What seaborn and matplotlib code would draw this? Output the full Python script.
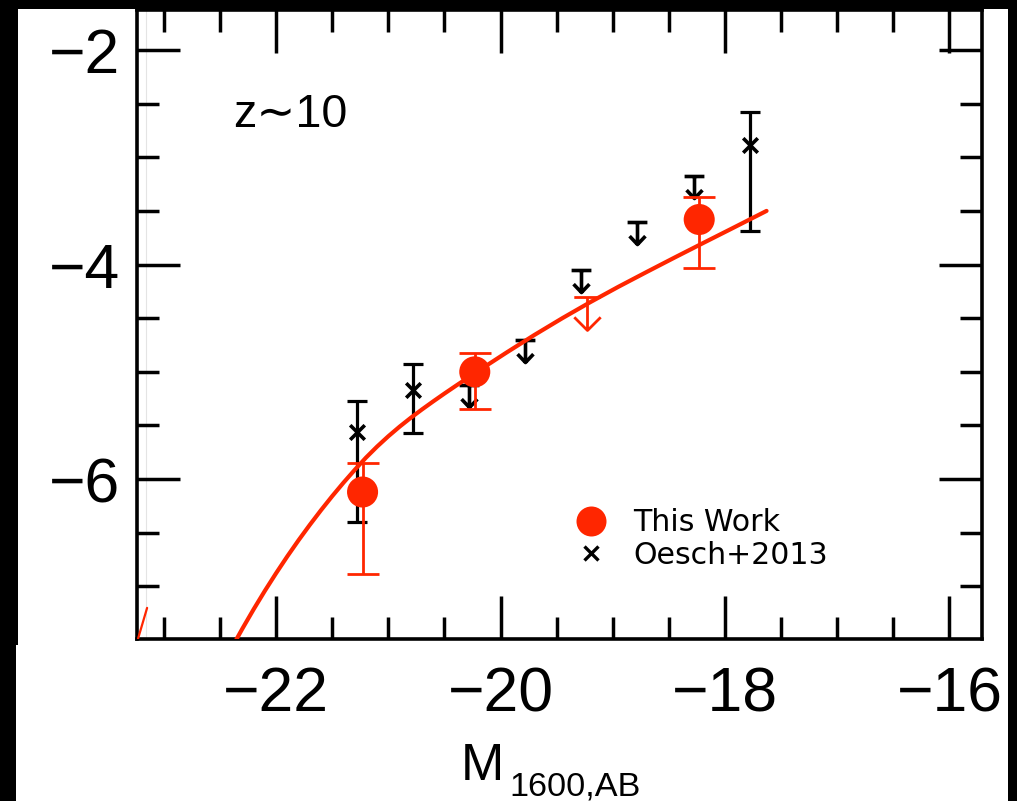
import matplotlib
matplotlib.use("Agg")
import matplotlib.pyplot as plt
from matplotlib.path import Path
from matplotlib.markers import MarkerStyle
from matplotlib.patches import Rectangle
from matplotlib.lines import Line2D
from matplotlib.ticker import MultipleLocator
import pandas as pd
import seaborn as sns

# Best-fit UV luminosity function at z~10 (log phi vs absolute magnitude)
fit_mag = [-22.40, -22.30, -22.20, -22.10, -22.00, -21.90, -21.80, -21.70, -21.60,
           -21.50, -21.40, -21.30, -21.20, -21.10, -21.00, -20.90, -20.80, -20.70,
           -20.60, -20.50, -20.40, -20.30, -20.20, -19.95, -19.70, -19.45, -19.20,
           -18.95, -18.70, -18.45, -18.20, -17.95, -17.63]
fit_logphi = [-7.580, -7.392, -7.212, -7.040, -6.876, -6.719, -6.569, -6.426, -6.289,
              -6.158, -6.033, -5.914, -5.800, -5.696, -5.600, -5.511, -5.428, -5.350,
              -5.275, -5.202, -5.131, -5.061, -4.992, -4.822, -4.657, -4.500, -4.350,
              -4.207, -4.070, -3.935, -3.802, -3.670, -3.500]

# Steep fit entering from the bright edge of the panel
edge_mag = [-23.24, -23.15]
edge_logphi = [-7.52, -7.20]

# This Work: binned detections and an upper limit
tw_mag = [-21.23, -20.23, -18.23]
tw_logphi = [-6.12, -5.00, -3.58]
tw_err_lo = [0.76, 0.35, 0.45]
tw_err_hi = [0.27, 0.18, 0.21]
tw_lim_mag = [-19.23]
tw_lim_logphi = [-4.30]

# Oesch+2013: detections and upper limits
oe_mag = [-21.28, -20.78, -17.78]
oe_logphi = [-5.56, -5.17, -2.89]
oe_err_lo = [0.84, 0.40, 0.80]
oe_err_hi = [0.29, 0.24, 0.31]
oe_lim_mag = [-20.28, -19.78, -19.28, -18.78, -18.28]
oe_lim_logphi = [-5.12, -4.70, -4.05, -3.60, -3.17]

x_ticks = [-22, -20, -18, -16]
y_ticks = [-2, -4, -6]

RED = "#ff2600"
W, H = 1017, 801

sns.set_theme(style="white")
plt.rcParams["font.family"] = ["Liberation Sans", "DejaVu Sans"]
plt.rcParams["axes.unicode_minus"] = True

fig = plt.figure(figsize=(W / 100, H / 100), dpi=100, facecolor="white")
ax = fig.add_axes([137 / W, (H - 639) / H, (982 - 137) / W, (639 - 10.5) / H])
ax.set_facecolor("white")


def limit_marker(cap, head_w, head_h):
    verts = [(-cap, 0), (cap, 0), (0, 0), (0, -1),
             (-head_w, -1 + head_h), (0, -1), (head_w, -1 + head_h)]
    codes = [Path.MOVETO, Path.LINETO, Path.MOVETO, Path.LINETO,
             Path.MOVETO, Path.LINETO, Path.LINETO]
    return MarkerStyle(Path(verts, codes), joinstyle="round", capstyle="butt")


# faint guide near the left edge
ax.axvline(-23.16, color="#e4e4e4", lw=0.8, zorder=0.5)

# Oesch+2013
ax.errorbar(oe_mag, oe_logphi, yerr=[oe_err_lo, oe_err_hi], fmt="none",
            ecolor="black", elinewidth=2.3, capsize=7.2, capthick=2.3, zorder=2)
sns.scatterplot(x=oe_mag, y=oe_logphi, marker="x", s=110, color="black",
                linewidth=2.6, ax=ax, zorder=3, legend=False)
ax.plot(oe_lim_mag, oe_lim_logphi, ls="none",
        marker=limit_marker(0.45, 0.36, 0.38), ms=31.7,
        mfc="none", mec="black", mew=2.6, zorder=3)

# This Work
ax.errorbar(tw_mag, tw_logphi, yerr=[tw_err_lo, tw_err_hi], fmt="none",
            ecolor=RED, elinewidth=2.0, capsize=11.5, capthick=2.0, zorder=4)
ax.plot(tw_lim_mag, tw_lim_logphi, ls="none",
        marker=limit_marker(0.40, 0.40, 0.40), ms=47.5,
        mfc="none", mec=RED, mew=2.0, zorder=4)
fit_df = pd.DataFrame({"M": fit_mag, "logphi": fit_logphi})
sns.lineplot(data=fit_df, x="M", y="logphi", color=RED, lw=3.0, sort=False,
             ax=ax, zorder=5)
sns.lineplot(x=edge_mag, y=edge_logphi, color=RED, lw=1.6, sort=False,
             ax=ax, zorder=5)
sns.scatterplot(x=tw_mag, y=tw_logphi, marker="o", s=500, color=RED,
                edgecolor="none", ax=ax, zorder=6, legend=False)

ax.set_xlim(-23.24, -15.71)
ax.set_ylim(-7.49, -1.632)
ax.set_xticks(x_ticks)
ax.set_yticks(y_ticks)
ax.xaxis.set_minor_locator(MultipleLocator(0.5))
ax.yaxis.set_minor_locator(MultipleLocator(0.5))
ax.tick_params(which="both", direction="in", top=True, right=True,
               bottom=True, left=True, color="black", width=2.5)
ax.tick_params(which="major", length=31, labelsize=45, labelcolor="black")
ax.tick_params(which="minor", length=16)
ax.tick_params(axis="x", which="major", pad=19)
ax.tick_params(axis="y", which="major", pad=12)
for sp in ax.spines.values():
    sp.set_color("black")
    sp.set_linewidth(2.6)
    sp.set_visible(True)
ax.set_xlabel("")
ax.set_ylabel("")

ax.text(-22.38, -2.72, "z\u223c10", fontsize=33.6, va="baseline", ha="left",
        color="black", family=["Liberation Sans", "DejaVu Sans"])

# axis title with a lowered subscript
fig.text(461 / W, (H - 780) / H, "M", fontsize=37.4, va="baseline", ha="left",
         color="black")
fig.text(509 / W, (H - 796) / H, "1600,AB", fontsize=24.7, va="baseline",
         ha="left", color="black")

h_tw = Line2D([], [], ls="none", marker="o", ms=21.6, mfc=RED, mec="none")
h_oe = Line2D([], [], ls="none", marker="x", ms=10.5, mec="black", mew=2.4)
ax.legend([h_tw, h_oe], ["This Work", "Oesch+2013"], loc="upper left",
          bbox_to_anchor=(576 / W, (H - 508) / H), bbox_transform=fig.transFigure,
          frameon=False, borderpad=0, borderaxespad=0, handlelength=1.0,
          handletextpad=0.9, labelspacing=0.12, numpoints=1, labelcolor="black",
          prop={"family": "DejaVu Sans", "size": 21.6})

# dark surround
for (x0, y0, w, h) in [(0, 0, W, 9), (0, 0, 18, 645), (0, 645, 16, H - 645),
                       (1008, 0, W - 1008, H)]:
    fig.add_artist(Rectangle((x0 / W, (H - y0 - h) / H), w / W, h / H,
                             transform=fig.transFigure, facecolor="black",
                             edgecolor="none", zorder=10))

fig.savefig("out.png", dpi=100, facecolor=fig.get_facecolor())
